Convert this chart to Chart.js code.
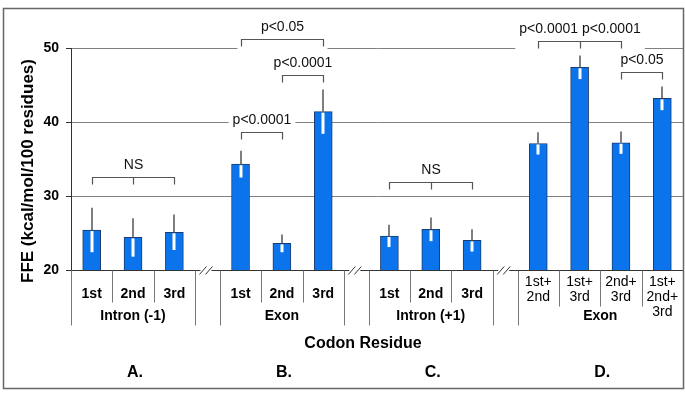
<!DOCTYPE html>
<html><head><meta charset="utf-8">
<script src="https://cdn.jsdelivr.net/npm/chart.js@4.4.0/dist/chart.umd.min.js"></script>
<style>html,body{margin:0;padding:0;background:#fff}#wrap{width:685px;height:402px}</style>
</head><body><div id="wrap"><canvas id="c" width="685" height="402"></canvas></div>
<script>
const groupNames = ["Intron (-1)", "Exon", "Intron (+1)", "Exon"];
const panelLetters = ["A.", "B.", "C.", "D."];
const categories = [
  ["1st", "2nd", "3rd"],
  ["1st", "2nd", "3rd"],
  ["1st", "2nd", "3rd"],
  [["1st+", "2nd"], ["1st+", "3rd"], ["2nd+", "3rd"], ["1st+", "2nd+", "3rd"]]
];
const meanFFE = [25.4, 24.4, 25.1, 34.3, 23.6, 41.4, 24.6, 25.5, 24.0, 37.1, 47.4, 37.2, 43.2];
const errFFE  = [3.0, 2.6, 2.4, 1.8, 1.2, 3.0, 1.5, 1.6, 1.5, 1.5, 1.6, 1.5, 1.6];
const yTicks = [20, 30, 40, 50];
const xTitle = "Codon Residue";
const yTitle = "FFE (kcal/mol/100 residues)";
// significance brackets: [label, first bar, last bar, middle bar (or null), bracket level in FFE units]
const brackets = [
  ["NS", 0, 2, 1, 32.5],
  ["p<0.0001", 3, 4, null, 38.6],
  ["p<0.0001", 4, 5, null, 46.3],
  ["p<0.05", 3, 5, null, 51.2],
  ["NS", 6, 8, 7, 31.9],
  ["p<0.0001 p<0.0001", 9, 11, 10, 51.0],
  ["p<0.05", 11, 12, null, 46.7]
];

const FONT = "'Liberation Sans', Arial, Helvetica, sans-serif";
const GAP = 0.6;
const pos = [], spans = [];
let cur = 0;
categories.forEach((g, gi) => {
  if (gi > 0) cur += GAP;
  const s = cur;
  g.forEach(() => { pos.push(cur + 0.5); cur += 1; });
  spans.push([s, cur]);
});
const xMax = cur;

const decor = {
  id: 'decor',
  afterDatasetsDraw(chart) {
    const {ctx, chartArea: ca, scales: {x, y}} = chart;
    const px = v => x.getPixelForValue(v), py = v => y.getPixelForValue(v);
    ctx.save();
    // brackets with white label boxes
    brackets.forEach(([lab, a, b, m, lev]) => {
      const xs = Math.round(px(pos[a])) + 0.5, xe = Math.round(px(pos[b])) + 0.5;
      const yb = Math.round(py(lev)) + 0.5;
      const cx = (xs + xe) / 2;
      ctx.font = "14px " + FONT;
      const w = ctx.measureText(lab).width;
      const l = Math.min(xs, cx - w / 2) - 4, r = Math.max(xe, cx + w / 2) + 4;
      ctx.fillStyle = '#fff';
      ctx.fillRect(l, yb - 21, r - l, 31);
      ctx.strokeStyle = '#555'; ctx.lineWidth = 1.2;
      ctx.beginPath();
      ctx.moveTo(xs, yb + 7); ctx.lineTo(xs, yb); ctx.lineTo(xe, yb); ctx.lineTo(xe, yb + 7);
      if (m !== null) { const xm = Math.round(px(pos[m])) + 0.5; ctx.moveTo(xm, yb); ctx.lineTo(xm, yb + 7); }
      ctx.stroke();
      ctx.fillStyle = '#111'; ctx.textAlign = 'center'; ctx.textBaseline = 'middle';
      ctx.fillText(lab, cx, yb - 12);
    });
    // error bars
    meanFFE.forEach((v, i) => {
      const xx = Math.round(px(pos[i]));
      ctx.strokeStyle = '#fff'; ctx.lineWidth = 3;
      ctx.beginPath(); ctx.moveTo(xx, py(v - errFFE[i])); ctx.lineTo(xx, py(v) + 1); ctx.stroke();
      ctx.strokeStyle = '#555'; ctx.lineWidth = 1.5;
      ctx.beginPath(); ctx.moveTo(xx, py(v + errFFE[i])); ctx.lineTo(xx, py(v)); ctx.stroke();
    });
    // x axis line
    const y0 = Math.round(py(20)) + 0.5;
    ctx.strokeStyle = '#333'; ctx.lineWidth = 1;
    ctx.beginPath(); ctx.moveTo(ca.left, y0); ctx.lineTo(ca.right, y0); ctx.stroke();
    // separators
    ctx.strokeStyle = '#777';
    spans.forEach(([s, e], gi) => {
      ctx.beginPath();
      [s, e].forEach(v => { const xx = Math.round(px(v)) + 0.5; ctx.moveTo(xx, y0); ctx.lineTo(xx, y0 + 55); });
      for (let k = 1; k < e - s - 0.01; k++) {
        const xx = Math.round(px(s + k)) + 0.5;
        ctx.moveTo(xx, y0); ctx.lineTo(xx, y0 + (gi === 3 ? 36 : 32));
      }
      ctx.stroke();
      if (gi > 0) {
        const gx = px((spans[gi - 1][1] + s) / 2);
        ctx.strokeStyle = '#333'; ctx.lineWidth = 1;
        ctx.fillStyle = '#fff'; ctx.fillRect(gx - 10, y0 - 1, 20, 2);
        ctx.beginPath();
        ctx.moveTo(gx - 8, y0 + 4); ctx.lineTo(gx - 1, y0 - 4);
        ctx.moveTo(gx - 2, y0 + 4); ctx.lineTo(gx + 5, y0 - 4);
        ctx.stroke();
        ctx.beginPath(); ctx.moveTo(gx - 10.5, y0); ctx.lineTo(gx - 7, y0); ctx.moveTo(gx + 4, y0); ctx.lineTo(gx + 10.5, y0); ctx.stroke();
        ctx.strokeStyle = '#777';
      }
    });
    // category labels
    ctx.fillStyle = '#000'; ctx.textAlign = 'center'; ctx.textBaseline = 'middle';
    let idx = 0;
    categories.forEach((g, gi) => {
      g.forEach(lab => {
        const xx = px(pos[idx]);
        if (Array.isArray(lab)) {
          ctx.font = "14px " + FONT;
          lab.forEach((t, li) => ctx.fillText(t, xx, 282 + li * 15));
        } else {
          ctx.font = "bold 14px " + FONT;
          ctx.fillText(lab, xx, 294);
        }
        idx++;
      });
      const [s, e] = spans[gi];
      ctx.font = "bold 14px " + FONT;
      ctx.fillText(groupNames[gi], px((s + e) / 2), 316);
      ctx.font = "bold 16px " + FONT;
      ctx.fillText(panelLetters[gi], px((s + e) / 2) + 2, 373);
    });
    ctx.font = "bold 16px " + FONT;
    ctx.fillText(xTitle, 363, 344);
    // y title
    ctx.save();
    ctx.translate(28, 171); ctx.rotate(-Math.PI / 2);
    ctx.font = "bold 17px " + FONT;
    ctx.fillText(yTitle, 0, 0);
    ctx.restore();
    // frame
    ctx.strokeStyle = '#666'; ctx.lineWidth = 1.5;
    ctx.strokeRect(3.5, 8.5, 680, 380);
    ctx.restore();
  }
};

new Chart(document.getElementById('c'), {
  type: 'bar',
  data: {
    datasets: [{
      data: meanFFE.map((v, i) => ({x: pos[i], y: v})),
      backgroundColor: '#0B74EC',
      borderColor: '#1B3D6E',
      borderWidth: 1,
      borderSkipped: 'bottom',
      barThickness: 18
    }]
  },
  options: {
    responsive: false,
    animation: false,
    layout: {padding: {left: 0, right: 2, top: 48, bottom: 132}},
    plugins: {legend: {display: false}, tooltip: {enabled: false}},
    scales: {
      x: {type: 'linear', min: 0, max: xMax, offset: false, display: false},
      y: {
        min: 20, max: 50,
        afterBuildTicks: s => { s.ticks = yTicks.map(v => ({value: v})); },
        afterFit: s => { s.width = 71; },
        ticks: {font: {family: FONT, size: 14, weight: 'bold'}, color: '#000', padding: 7},
        grid: {color: '#808080', lineWidth: 1, tickLength: 5, tickColor: '#333'},
        border: {color: '#333', width: 1}
      }
    }
  },
  plugins: [decor]
});
</script>
</body></html>
